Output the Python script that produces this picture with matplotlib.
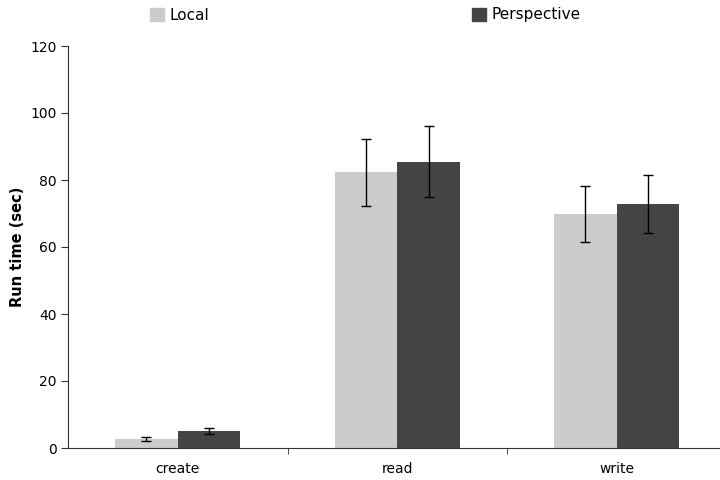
import matplotlib.pyplot as plt
import matplotlib.patches as mpatches
import numpy as np

# run time per operation (sec)
ops = ['create', 'read', 'write']
local_mean = [2.7, 82.3, 69.9]
local_err = [0.5, 10.0, 8.3]
persp_mean = [5.1, 85.5, 72.8]
persp_err = [0.8, 10.5, 8.7]

c_local = '#cccccc'
c_persp = '#444444'

fig = plt.figure(figsize=(7.2, 4.8), dpi=100)
ax = fig.add_axes([68 / 720, 32 / 480, 658.5 / 720, 402 / 480])

x = np.arange(len(ops))
w = 0.285
ax.bar(x - w / 2, local_mean, w, color=c_local, yerr=local_err,
       error_kw=dict(ecolor='black', elinewidth=1, capsize=3.5, capthick=1))
ax.bar(x + w / 2, persp_mean, w, color=c_persp, yerr=persp_err,
       error_kw=dict(ecolor='black', elinewidth=1, capsize=3.5, capthick=1))

ax.set_xlim(-0.5, 2.5)
ax.set_ylim(0, 120)
ax.set_yticks(range(0, 121, 20))
ax.set_xticks(x)
ax.set_xticklabels(ops, fontsize=10)
ax.tick_params(axis='x', length=0, pad=10)
ax.set_xticks([0.5, 1.5], minor=True)
ax.tick_params(axis='x', which='minor', length=4, direction='out', color='#333333')
ax.tick_params(axis='y', length=5, direction='out', labelsize=10, color='#333333', pad=3)
ax.set_ylabel('Run time (sec)', fontsize=10.5, fontweight='bold', labelpad=4)

for s in ['top', 'right']:
    ax.spines[s].set_visible(False)
ax.spines['left'].set_color('#333333')
ax.spines['bottom'].set_color('#333333')

# legend entries across the top
for label, col, xpos in [('Local', c_local, 150 / 720), ('Perspective', c_persp, 472 / 720)]:
    h = mpatches.Patch(color=col, label=label)
    fig.legend(handles=[h], loc='center left', bbox_to_anchor=(xpos, 1 - 15 / 480),
               frameon=False, fontsize=11, handlelength=0.9, handleheight=0.9,
               handletextpad=0.4, borderpad=0, borderaxespad=0)

fig.savefig('out.png', dpi=100)
